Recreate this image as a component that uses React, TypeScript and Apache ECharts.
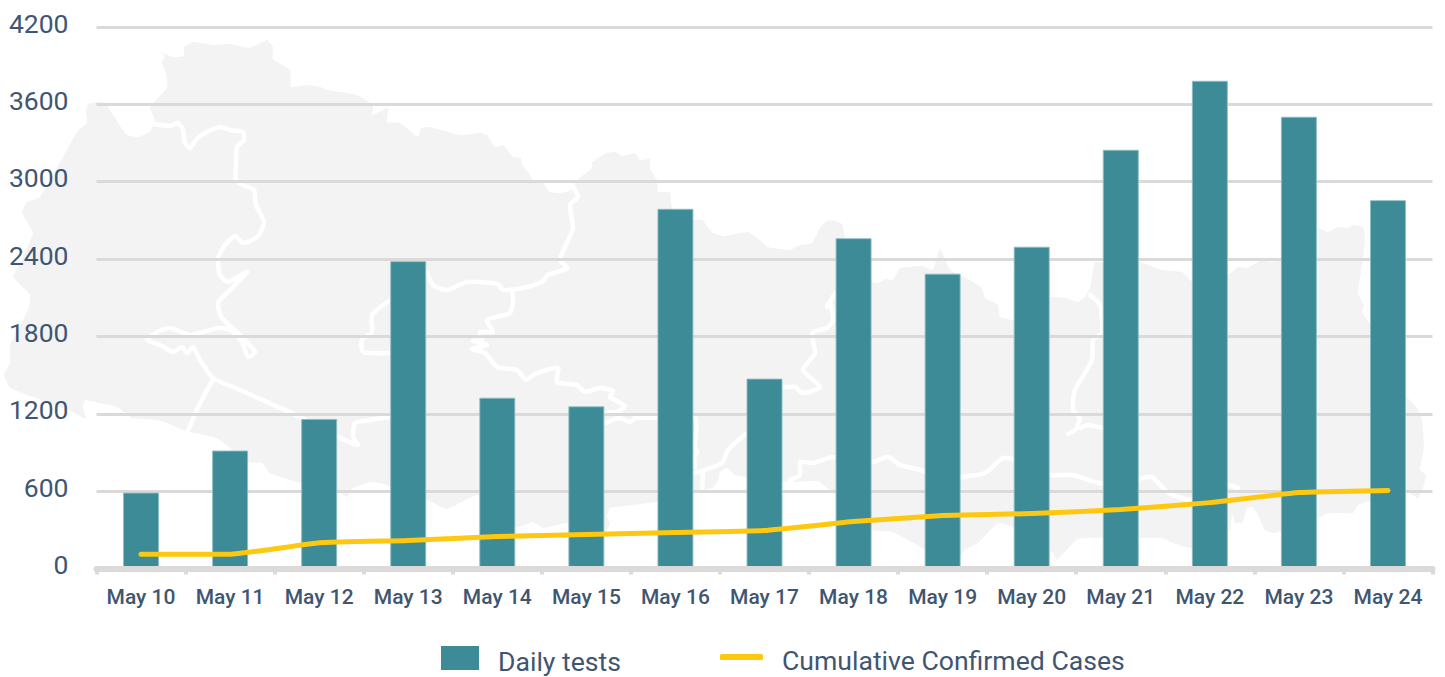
import React, { useEffect, useRef } from "react";
import * as echarts from "echarts";

const categories = ["May 10","May 11","May 12","May 13","May 14","May 15","May 16","May 17","May 18","May 19","May 20","May 21","May 22","May 23","May 24"];
const dailyTests = [589,915,1160,2384,1325,1258,2790,1473,2562,2287,2496,3248,3783,3504,2857];
const cumulativeCases = [110,110,199,217,248,264,279,295,364,411,426,457,511,589,605];
const yTicks = { min: 0, max: 4200, interval: 600 };

const TEXT = "#3f5672";
const GRID = "#dbdad8";
const MAP = "#f3f3f3";

// decorative background map, page coordinates
const mapOutline = [
[88,104],[97,102],[105,103],[115,118],[127,135],[138,137],[150,132],[155,120],[150,107],[167,88],[166,73],[162,62],[165,57],[160,52],[173,57],[184,56],[184,47],[193,42],[213,45],[230,44],[250,48],[267,40],[273,47],[273,59],[290,70],[291,87],[307,85],[320,87],[328,90],[357,95],[373,105],[372,115],[388,108],[387,122],[400,123],[418,137],[421,128],[430,127],[460,135],[480,133],[487,135],[495,147],[503,145],[513,157],[521,158],[522,165],[528,172],[533,180],[542,182],[550,192],[560,193],[572,190],[575,183],[583,175],[592,168],[592,162],[607,153],[615,152],[622,156],[635,153],[640,160],[650,159],[650,168],[657,180],[658,192],[670,192],[672,208],[693,220],[702,220],[713,233],[725,236],[748,232],[760,240],[767,247],[790,250],[800,245],[812,243],[822,225],[830,220],[842,224],[845,237],[855,262],[873,282],[878,283],[885,279],[893,280],[900,268],[923,266],[933,270],[940,248],[950,270],[960,275],[973,282],[982,288],[985,298],[998,305],[1000,317],[1015,320],[1051,297],[1065,298],[1078,302],[1085,297],[1090,288],[1092,278],[1095,262],[1103,263],[1140,262],[1162,270],[1182,272],[1193,282],[1228,275],[1238,267],[1247,268],[1262,260],[1272,262],[1282,258],[1318,228],[1328,232],[1338,227],[1348,228],[1353,225],[1363,227],[1365,237],[1363,260],[1358,293],[1364,305],[1362,312],[1372,327],[1407,397],[1417,408],[1422,420],[1424,447],[1420,470],[1426,475],[1423,488],[1418,498],[1407,492],[1380,498],[1358,505],[1353,513],[1328,513],[1318,518],[1275,533],[1265,530],[1257,513],[1252,507],[1247,508],[1243,522],[1235,523],[1232,513],[1230,530],[1193,548],[1178,545],[1162,538],[1140,538],[1078,539],[1057,560],[1053,553],[1015,528],[998,523],[978,543],[965,550],[960,557],[930,552],[893,532],[872,530],[850,505],[827,488],[818,481],[788,482],[748,477],[735,475],[727,468],[720,472],[718,480],[713,488],[702,490],[657,502],[610,508],[607,517],[610,523],[605,533],[568,523],[543,528],[533,522],[515,528],[478,495],[447,509],[427,500],[380,483],[370,482],[353,488],[347,497],[337,490],[300,483],[270,473],[262,463],[248,462],[220,440],[213,437],[183,430],[167,423],[157,420],[132,418],[117,407],[100,403],[85,400],[83,407],[86,419],[73,412],[33,397],[10,388],[4,375],[10,363],[10,345],[28,310],[30,295],[13,277],[15,273],[33,233],[22,213],[27,202],[40,197],[63,157],[77,132],[87,123],[86,110]
];
const mapBorders = [
[[155,124],[170,126],[178,123],[183,130],[185,143],[190,148],[196,140],[205,133],[220,127],[230,130],[243,132],[244,140],[237,147],[236,165],[236,180],[245,186],[254,190],[256,205],[264,222],[259,235],[252,240],[243,243],[235,236],[225,245],[218,258],[220,275],[228,282],[247,272],[233,287],[218,303],[222,318],[243,338],[255,352],[248,357],[242,342],[230,330],[218,328],[203,332],[190,335],[170,328],[157,332],[147,340],[160,345],[173,352],[182,347],[187,353],[193,347],[200,360],[213,378],[240,390],[267,402],[300,417],[338,437],[358,445],[353,437],[355,423],[370,420],[390,417]],
[[213,380],[200,403],[187,433]],
[[390,300],[372,315],[372,332],[362,340],[363,352],[390,353]],
[[427,272],[433,285],[447,290],[467,282],[498,284],[503,290],[523,288],[542,282],[548,275],[567,268],[560,260],[565,247],[573,228],[570,205],[578,197],[572,185]],
[[512,290],[513,300],[510,313],[487,320],[493,332],[480,332],[482,340],[473,341],[487,345],[472,349],[485,353],[497,367],[517,370],[526,380],[535,374],[558,368],[557,382],[577,385],[585,392],[600,388],[613,391],[610,397],[625,406],[617,412],[603,413]],
[[605,423],[620,418],[630,422],[635,418],[657,418],[695,418],[695,447],[697,452],[694,457],[695,467]],
[[695,473],[722,463],[728,450],[747,433]],
[[703,473],[702,488]],
[[783,387],[795,387],[803,393],[820,387],[803,370],[815,353],[812,333],[827,328],[833,320],[830,302],[827,307],[835,293]],
[[790,480],[800,475],[800,462],[813,463],[833,457],[873,462],[888,457],[900,465],[920,470],[945,478],[962,477],[985,473],[1003,458],[1015,460],[1051,475],[1073,475],[1100,483],[1142,478],[1152,477],[1167,492],[1182,498],[1195,500],[1228,485],[1238,488]],
[[1090,295],[1100,305],[1102,333],[1093,340],[1092,360],[1075,390],[1073,410],[1080,418],[1075,430],[1068,434]],
[[1080,428],[1088,425],[1102,428]],
];

const legendRich = {
  s: { fontSize: 1, lineHeight: 34, width: 0 },
  t: { color: TEXT, fontSize: 26.6, fontFamily: "Roboto", lineHeight: 28, verticalAlign: "bottom", padding: [0, 0, 0, 14] },
};

export default function App() {
  const ref = useRef<HTMLDivElement>(null);
  useEffect(() => {
    const chart = echarts.init(ref.current!, null, { renderer: "svg" });
    chart.setOption({
      animation: false,
      backgroundColor: "#ffffff",
      textStyle: { fontFamily: "Roboto" },
      grid: { left: 96.5, right: 12.5, top: 27, bottom: 108.5 },
      graphic: {
        elements: [
          { type: "polygon", z: -10, silent: true, shape: { points: mapOutline, smooth: 0.12 }, style: { fill: MAP } },
          ...mapBorders.map((points) => ({
            type: "polyline", z: -9, silent: true,
            shape: { points, smooth: 0.2 },
            style: { stroke: "#ffffff", lineWidth: 4.5, fill: "none", lineJoin: "round", lineCap: "round" },
          })),
        ],
      },
      legend: [
        {
          data: ["Daily tests"], left: 441, top: 646, padding: 0,
          itemWidth: 38, itemHeight: 24, itemGap: 0,
          icon: "rect",
          itemStyle: { borderWidth: 0 },
          formatter: "{s| }{t|{name}}",
          textStyle: { color: TEXT, fontSize: 26.6, fontFamily: "Roboto", rich: legendRich },
        },
        {
          data: ["Cumulative Confirmed Cases"], left: 720, top: 647, padding: 0,
          itemWidth: 43, itemHeight: 6, itemGap: 0,
          icon: "roundRect",
          itemStyle: { borderWidth: 0 },
          formatter: "{s| }{t|{name}}",
          textStyle: { color: TEXT, fontSize: 26.6, fontFamily: "Roboto", rich: legendRich },
        },
      ],
      xAxis: {
        type: "category",
        data: categories,
        z: 3,
        axisLine: { show: true, lineStyle: { color: GRID, width: 6 } },
        axisTick: { show: true, alignWithLabel: false, length: 6, lineStyle: { color: GRID, width: 4 } },
        axisLabel: { color: TEXT, fontSize: 21, fontWeight: 500, fontFamily: "Roboto", margin: 18, interval: 0 },
      },
      yAxis: {
        type: "value",
        min: yTicks.min, max: yTicks.max, interval: yTicks.interval,
        axisLine: { show: false },
        axisTick: { show: false },
        splitLine: { show: true, lineStyle: { color: GRID, width: 3 } },
        axisLabel: {
          color: TEXT, fontSize: 26.5, fontFamily: "Roboto", margin: 28,
          verticalAlign: "bottom", lineHeight: 8,
          formatter: (v: number) => String(v),
        },
      },
      series: [
        {
          name: "Daily tests", type: "bar", data: dailyTests, barWidth: 36, z: 2,
          itemStyle: { color: "#3d8b96", borderColor: "rgba(140,190,196,0.9)", borderWidth: 1 },
        },
        {
          name: "Cumulative Confirmed Cases", type: "line", data: cumulativeCases, symbol: "none", z: 4,
          smooth: 0.1,
          lineStyle: { color: "#fec810", width: 5, cap: "round", join: "round" },
          itemStyle: { color: "#fec810" },
        },
      ],
    });
    return () => chart.dispose();
  }, []);
  return <div ref={ref} style={{ position: "absolute", left: 0, top: 0, width: 1445, height: 677 }} />;
}
